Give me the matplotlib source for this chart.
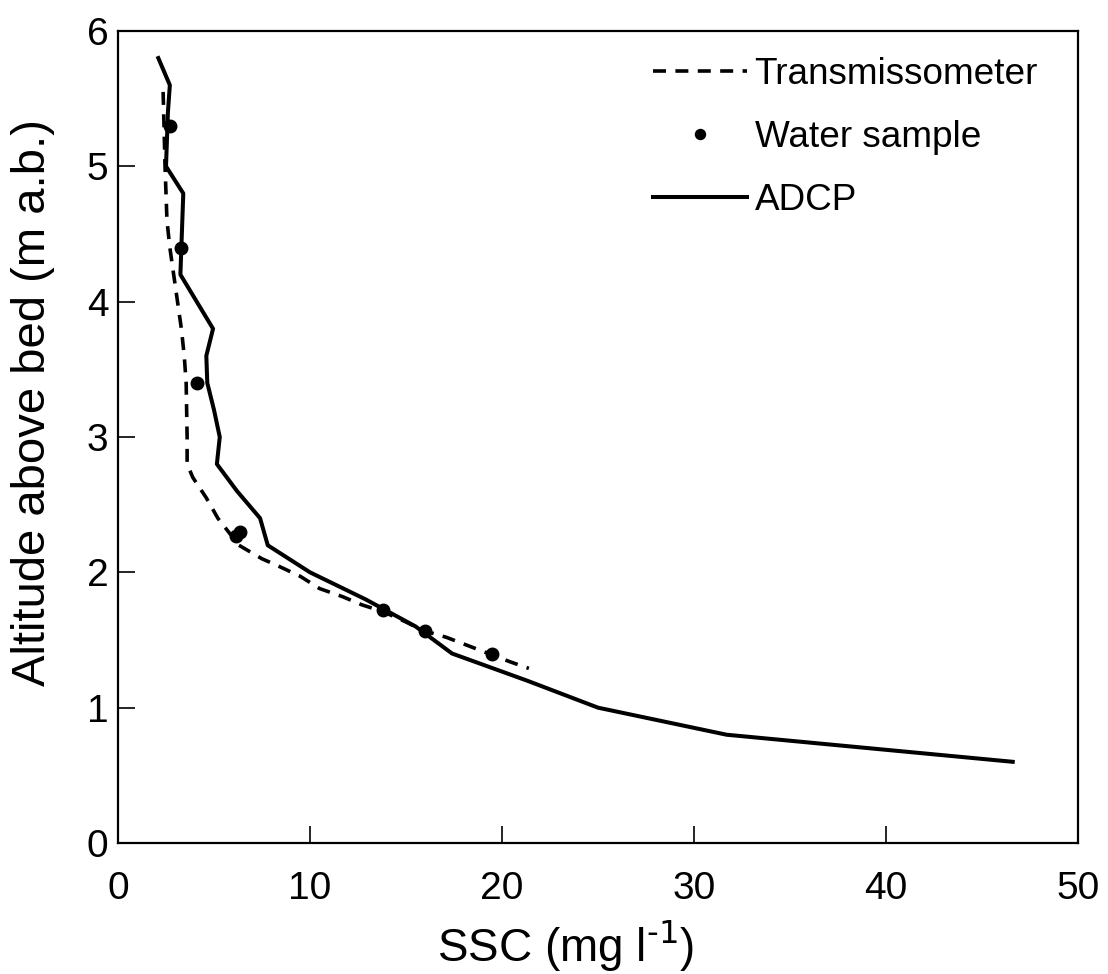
import matplotlib
matplotlib.use("Agg")
import matplotlib.pyplot as plt
from matplotlib import font_manager

# ---------------- data ----------------
adcp_alt = [5.8, 5.6, 5.4, 5.2, 5.0, 4.8, 4.6, 4.4, 4.2, 4.0, 3.8, 3.6, 3.4, 3.2,
            3.0, 2.8, 2.6, 2.4, 2.2, 2.0, 1.8, 1.6, 1.4, 1.2, 1.0, 0.8, 0.6]
adcp_ssc = [2.1, 2.7, 2.6, 2.55, 2.5, 3.4, 3.35, 3.3, 3.25, 4.1, 4.95, 4.6, 4.65, 5.0,
            5.3, 5.15, 6.2, 7.4, 7.8, 10.0, 12.9, 15.5, 17.4, 21.3, 25.0, 31.7, 46.6]

trans_alt = [5.55, 5.0, 4.6, 4.4, 4.2, 4.0, 3.8, 3.6, 3.4, 3.0, 2.8, 2.7, 2.55, 2.4,
             2.2, 2.1, 2.05, 1.97, 1.88, 1.82, 1.76, 1.71, 1.64, 1.57, 1.52, 1.46,
             1.40, 1.34, 1.29]
trans_ssc = [2.35, 2.45, 2.55, 2.7, 2.9, 3.1, 3.3, 3.45, 3.55, 3.6, 3.6, 3.9, 4.6, 5.2,
             6.3, 7.5, 8.3, 9.5, 10.5, 11.7, 12.7, 13.8, 14.9, 15.9, 17.1, 18.2,
             19.3, 20.4, 21.4]

sample_alt = [5.3, 4.4, 3.4, 2.30, 2.27, 1.72, 1.57, 1.40]
sample_ssc = [2.7, 3.3, 4.1, 6.35, 6.15, 13.8, 16.0, 19.5]

x_ticks = [0, 10, 20, 30, 40, 50]
y_ticks = [0, 1, 2, 3, 4, 5, 6]

# ---------------- style ----------------
names = {f.name for f in font_manager.fontManager.ttflist}
fam = "Liberation Sans" if "Liberation Sans" in names else "DejaVu Sans"
plt.rcParams["font.family"] = [fam, "DejaVu Sans"]
plt.rcParams["mathtext.default"] = "regular"

fig = plt.figure(figsize=(11.08, 9.74), dpi=100)
ax = fig.add_axes([118 / 1108, 1 - 843 / 974, 960 / 1108, 812 / 974])

ax.plot(trans_ssc, trans_alt, color="black", lw=2.6,
        linestyle=(0, (3.6, 2.6)), label="Transmissometer")
ax.plot(sample_ssc, sample_alt, linestyle="none", marker="o", ms=9,
        color="black", label="Water sample")
ax.plot(adcp_ssc, adcp_alt, color="black", lw=2.9, label="ADCP")

ax.set_xlim(0, 50)
ax.set_ylim(0, 6)
ax.set_xticks(x_ticks)
ax.set_yticks(y_ticks)
ax.tick_params(direction="in", length=12, width=1.2, labelsize=28,
               top=False, right=False)
ax.tick_params(axis="x", pad=20)
ax.tick_params(axis="y", pad=7)
for s in ax.spines.values():
    s.set_linewidth(1.6)

ax.set_xlabel(r"SSC (mg l$^{\text{-1}}$)", fontsize=33)
ax.set_ylabel("Altitude above bed (m a.b.)", fontsize=34)
ax.xaxis.set_label_coords(0.466, -0.093)
ax.yaxis.set_label_coords(-0.066, 0.543)

leg = ax.legend(loc="upper left", bbox_to_anchor=(653 / 1108, 1 - 57 / 974),
                bbox_transform=fig.transFigure, frameon=False, fontsize=26.6,
                handlelength=2.55, handletextpad=0.2, labelspacing=0.76,
                borderpad=0, borderaxespad=0, numpoints=1, markerscale=0.8)

fig.savefig("out.png", dpi=100)
